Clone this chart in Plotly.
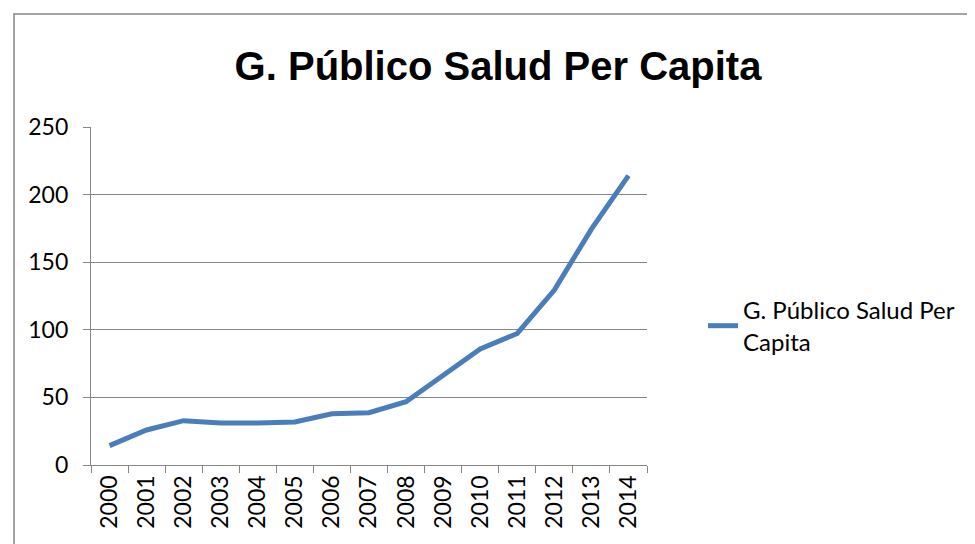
import plotly.graph_objects as go

years = [str(y) for y in range(2000, 2015)]
values = [14.3, 25.9, 32.8, 31.0, 31.0, 31.8, 37.9, 38.7, 46.8, 66.8, 85.8, 97.3, 129.4, 174.5, 214.0]
series_name = "G. Público Salud Per Capita"
y_ticks = [0, 50, 100, 150, 200, 250]

W, H = 975, 544
OFF = 8  # browser body margin
L, R, T, B = 91, 647, 127, 465
pw, ph = R - L, B - T

def px(x):
    return (x - L) / pw

def py(y):
    return (B - y) / ph

FONT = "Lato"
GRAY = "#868686"

fig = go.Figure()
fig.add_trace(go.Scatter(
    x=years, y=values, mode="lines",
    name="G. Público Salud Per<br>Capita",
    line=dict(color="#4A7EBB", width=5),
))

fig.update_layout(
    width=W, height=H,
    margin=dict(l=L - OFF, r=W - R + OFF, t=T - OFF, b=H - B + OFF, pad=0),
    paper_bgcolor="white", plot_bgcolor="white",
    font=dict(family=FONT, size=23, color="black"),
    title=dict(text="<b>" + series_name + "</b>", x=px(498), xref="paper", xanchor="center",
               y=1 - (66 - OFF) / H, yanchor="middle",
               font=dict(family="Liberation Sans", size=40, color="black")),
    showlegend=True,
    legend=dict(x=px(703), y=py(326), xanchor="left", yanchor="middle", yref="paper",
                font=dict(family=FONT, size=24), bgcolor="rgba(0,0,0,0)",
                itemwidth=30, tracegroupgap=0),
    xaxis=dict(type="category", showgrid=False, showline=True, linecolor=GRAY, linewidth=1.3,
               ticks="outside", ticklen=7, tickcolor=GRAY, tickwidth=1.3, tickson="boundaries",
               tickangle=-90, tickfont=dict(family=FONT, size=23), range=[-0.5, 14.5],
               fixedrange=True),
    yaxis=dict(range=[0, 250], tickvals=y_ticks, showgrid=True, gridcolor=GRAY, gridwidth=1.3,
               showline=True, linecolor=GRAY, linewidth=1.3, ticks="outside", ticklen=7,
               tickcolor=GRAY, tickwidth=1.3, tickfont=dict(family=FONT, size=23),
               zeroline=False, ticklabelstandoff=10),
)

fig.add_shape(type="rect", xref="paper", yref="paper",
              x0=px(14), y0=py(570), x1=px(1000), y1=py(14),
              line=dict(color=GRAY, width=1.5), fillcolor="rgba(0,0,0,0)", layer="below")

fig.write_html("out.html")
